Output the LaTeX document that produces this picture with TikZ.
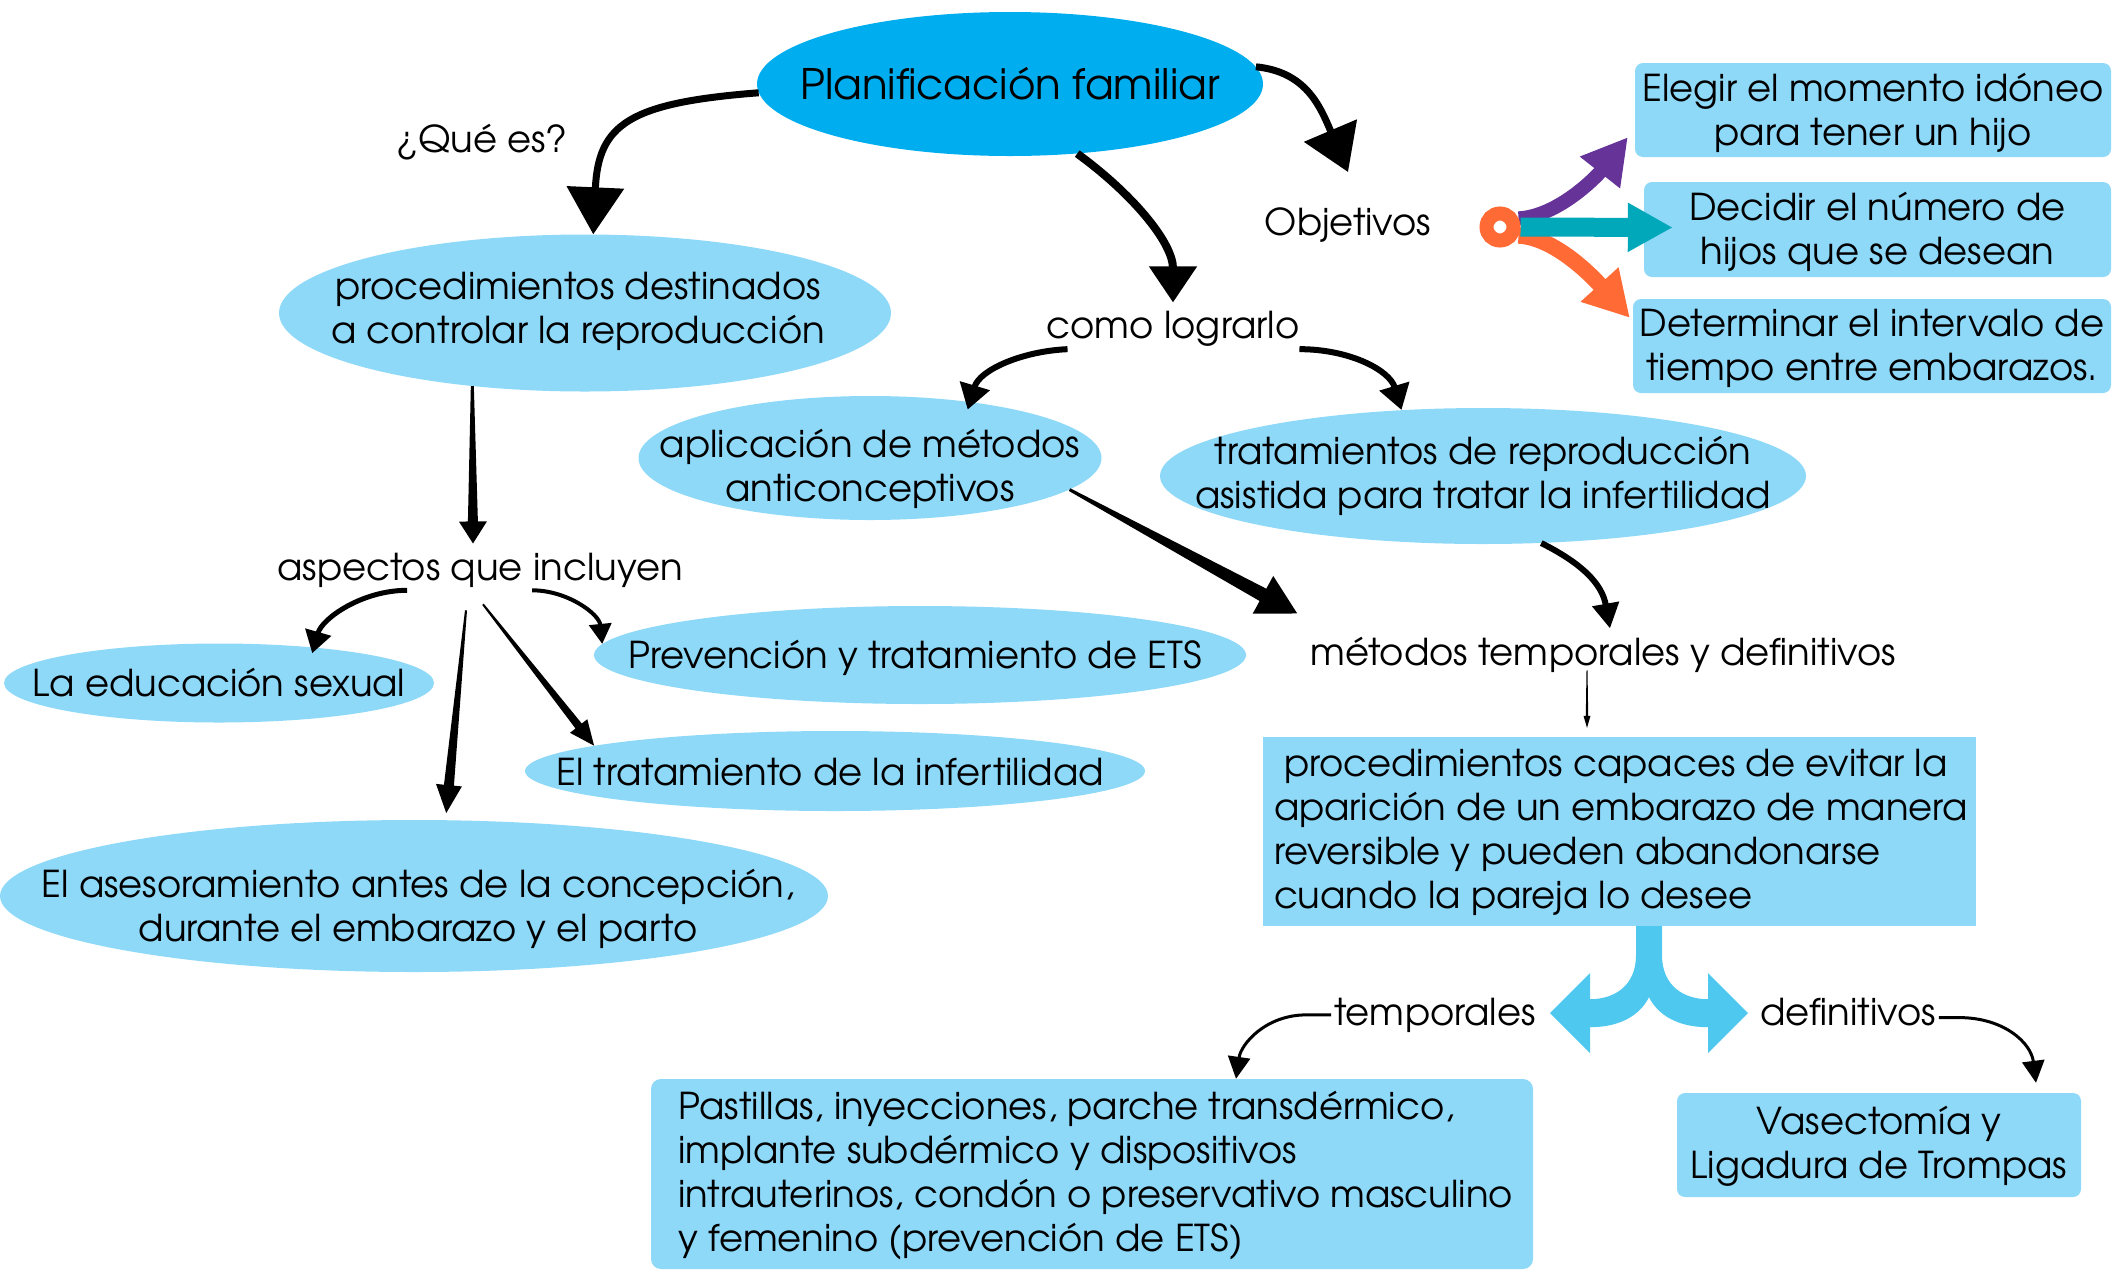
\documentclass[tikz,border=0pt]{standalone}
\usepackage{fontspec}
\setmainfont{TeX Gyre Adventor}
\usetikzlibrary{arrows.meta,calc,shapes.geometric}
\definecolor{dblue}{HTML}{00AEEF}
\definecolor{lblue}{HTML}{8ED8F8}
\definecolor{fblue}{HTML}{4FC8EF}
\definecolor{purp}{HTML}{663399}
\definecolor{tealc}{HTML}{00A8BA}
\definecolor{orng}{HTML}{FF6A35}
\pgfdeclarelayer{front}
\pgfsetlayers{main,front}
\newcommand\mytab[1]{\begin{tabular}{@{}c@{}}#1\end{tabular}}
\newcommand\ztab[1]{\makebox[0pt]{\mytab{#1}}}
\newcommand\lowr[2]{\raisebox{-#1}[\height][\depth]{#2}}
\newcommand\taparrow[6]{%
  \coordinate (tA) at (#1); \coordinate (tB) at (#2);
  \coordinate (tH) at ($(tB)!#5!(tA)$);
  \fill ($(tA)!#3!90:(tB)$) -- ($(tH)!#4!-90:(tA)$) -- ($(tH)!#6!-90:(tA)$) -- (tB)
    -- ($(tH)!#6!90:(tA)$) -- ($(tH)!#4!90:(tA)$) -- ($(tA)!#3!-90:(tB)$) -- cycle;}
\begin{document}
\begin{tikzpicture}[x=1pt,y=-1pt,font=\fontsize{37}{44}\selectfont,
  ell/.style={ellipse, fill=lblue, inner sep=0pt},
  ltxt/.style={inner sep=0pt},
  lbl/.style={inner sep=3pt, anchor=base},
  rbox/.style={fill=lblue, rounded corners=8pt, inner sep=0pt}]
\useasboundingbox (0,0) rectangle (2112,1270);

% ellipses
\node[ell, fill=dblue, minimum width=506pt, minimum height=144pt,
  label={[ltxt, yshift=-5pt, font=\fontsize{42}{50}\selectfont]center:\mytab{Planificación familiar}}] (plan) at (1010,84) {};
\node[ell, minimum width=612pt, minimum height=157pt,
  label={[ltxt, xshift=-7pt, yshift=0pt]center:\mytab{procedimientos destinados\\a controlar la reproducción}}] (proc) at (585,313) {};
\node[ell, minimum width=463pt, minimum height=124pt,
  label={[ltxt, yshift=-13pt]center:\mytab{aplicación de métodos\\anticonceptivos}}] (aplic) at (870,458) {};
\node[ell, minimum width=646pt, minimum height=136pt,
  label={[ltxt, yshift=-2pt]center:\mytab{tratamientos de reproducción\\asistida para tratar la infertilidad}}] (trat) at (1483,476) {};
\node[ell, minimum width=430pt, minimum height=79pt,
  label={[ltxt, yshift=-5pt]center:\mytab{La educación sexual}}] (edu) at (219,683) {};
\node[ell, minimum width=652pt, minimum height=98pt,
  label={[ltxt, xshift=-5pt, yshift=-5pt]center:\mytab{Prevención y tratamiento de ETS}}] (prev) at (920,655) {};
\node[ell, minimum width=620pt, minimum height=80pt,
  label={[ltxt, xshift=-5pt, yshift=-6pt]center:\mytab{El tratamiento de la infertilidad}}] (inf) at (835,771) {};
\node[ell, minimum width=828pt, minimum height=152pt,
  label={[ltxt, xshift=4pt, yshift=-15pt]center:\mytab{El asesoramiento antes de la concepción,\\durante el embarazo y el parto}}] (ases) at (414,896) {};

% boxes
\node[rbox, minimum width=476pt, minimum height=94pt] (elegir) at (1873,110) {\lowr{5pt}{\ztab{Elegir el momento idóneo\\para tener un hijo}}};
\node[rbox, minimum width=467pt, minimum height=95pt] (decidir) at (1877.5,229.5) {\lowr{4pt}{\ztab{Decidir el número de\\hijos que se desean}}};
\node[rbox, minimum width=478pt, minimum height=94pt] (determ) at (1872,346) {\lowr{4pt}{\ztab{Determinar el intervalo de\\tiempo entre embarazos.}}};
\node[rbox, sharp corners, minimum width=713pt, minimum height=189pt] (capaces) at (1619.5,831.5)
  {\lowr{2pt}{\makebox[691pt][l]{\begin{tabular}{@{}l@{}}\hspace*{10pt}procedimientos capaces de evitar la\\aparición de un embarazo de manera\\reversible y pueden abandonarse\\cuando la pareja lo desee\end{tabular}}}};
\node[rbox, rounded corners=10pt, minimum width=882pt, minimum height=190pt] (pastillas) at (1092,1174)
  {\lowr{3pt}{\makebox[828pt][l]{\begin{tabular}{@{}l@{}}Pastillas, inyecciones, parche transdérmico,\\implante subdérmico y dispositivos\\intrauterinos, condón o preservativo masculino\\y femenino (prevención de ETS)\end{tabular}}}};
\node[rbox, minimum width=404pt, minimum height=104pt] (vasect) at (1879,1145) {\lowr{3pt}{\ztab{Vasectomía y\\Ligadura de Trompas}}};

% plain labels
\node[lbl] (que) at (482,152) {¿Qué es?};
\node[lbl] (obj) at (1348,235) {Objetivos};
\node[lbl] (como) at (1173,338) {como lograrlo};
\node[lbl] (aspectos) at (480,580) {aspectos que incluyen};
\node[lbl] (metodos) at (1603,665) {métodos temporales y definitivos};
\node[lbl] (temporales) at (1435,1025) {temporales};
\node[lbl] (definitivos) at (1848,1025) {definitivos};

% ring
\begin{pgfonlayer}{front}
\node[circle, draw=orng, line width=14pt, minimum size=27pt, inner sep=0pt] (ring) at (1500,227) {};
\end{pgfonlayer}

% coloured objective arrows
\draw[orng, line width=16pt, -{Triangle[length=45pt,width=48pt]}] (ring.-25) .. controls +(40,2) and +(-30,-33) .. ([shift={(-3pt,-19pt)}]determ.north west);
\draw[purp, line width=14pt, -{Triangle[length=45pt,width=48pt]}] (ring.25) .. controls +(40,-2) and +(-30,38) .. ([shift={(-7pt,20pt)}]elegir.south west);
\draw[tealc, line width=19pt, -{Triangle[length=45pt,width=46pt]}] (ring.east) -- ([xshift=29pt,yshift=2pt]decidir.west);

% black curved arrows
\draw[line width=7pt, -{Triangle[length=47pt,width=56pt]}] (plan.182) .. controls +(-130,10) and +(5,-110) .. (proc.84);
\draw[line width=8pt, -{Triangle[length=36pt,width=46pt]}] (plan.-46) .. controls +(55,40) and +(0,-60) .. ([yshift=5pt]como.north);
\draw[line width=7pt, -{Triangle[length=45pt,width=56pt]}] (plan.4) .. controls +(50,5) and +(-28,-66) .. ([yshift=32pt]obj.north);
\draw[line width=6pt, -{Triangle[length=25pt,width=30pt]}] ([xshift=24pt]como.south west) .. controls +(-45,2) and +(12,-40) .. ([yshift=-8pt]aplic.30);
\draw[line width=6pt, -{Triangle[length=25pt,width=30pt]}] ([xshift=-3pt]como.south east) .. controls +(50,0) and +(-12,-40) .. (trat.141);
\draw[line width=6pt, -{Triangle[length=25pt,width=26pt]}] (trat.-49) .. controls +(40,20) and +(-8,-45) .. ([shift={(7pt,5pt)}]metodos.north);
\draw[line width=5pt, -{Triangle[length=22pt,width=26pt]}] ([xshift=133pt]aspectos.south west) .. controls +(-45,0) and +(10,-35) .. ([yshift=-6pt]edu.21);
\draw[line width=4pt, -{Triangle[length=20pt,width=22pt]}] ([xshift=258pt]aspectos.south west) .. controls +(35,0) and +(-3,-30) .. (prev.178);
\draw[line width=3pt, -{Triangle[length=22pt,width=22pt]}] (temporales.west) -- ++(-25,0) .. controls +(-40,0) and +(5,-35) .. ([xshift=144pt]pastillas.north);
\draw[line width=3pt, -{Triangle[length=22pt,width=22pt]}] ([yshift=-6pt]definitivos.east) -- ++(20,0) .. controls +(45,0) and +(-5,-40) .. ([shift={(157pt,10pt)}]vasect.north);

% straight tapered arrows
\taparrow{aplic.-9}{[shift={(-10pt,20pt)}]metodos.north west}{1.5pt}{7pt}{39pt}{21.5pt}
\taparrow{[xshift=-16pt,yshift=5pt]metodos.south}{[shift={(-32.5pt,9pt)}]capaces.north}{0.5pt}{1.2pt}{12pt}{3.5pt}
\taparrow{proc.213}{[xshift=-7pt,yshift=6pt]aspectos.north}{1.5pt}{5pt}{22pt}{14pt}
\taparrow{[xshift=3pt,yshift=-14pt]aspectos.south}{inf.174}{1pt}{4pt}{25pt}{11pt}
\taparrow{[xshift=-14pt,yshift=-20pt]aspectos.south}{[yshift=7pt]ases.67}{1pt}{5pt}{28pt}{13pt}

% fork arrow
\coordinate (fk) at ([xshift=29.5pt]capaces.south);
\begin{scope}[shift={(fk)}]
\fill[fblue] (-13,0) -- (-13,29) .. controls (-13,59) and (-34,73) .. (-59,73) -- (-59,47) -- (-99,87) -- (-59,127) -- (-59,101)
  .. controls (-29,101) and (-9,89) .. (0,71) .. controls (9,89) and (29,101) .. (59,101) -- (59,127) -- (99,87) -- (59,47) -- (59,73)
  .. controls (34,73) and (13,59) .. (13,29) -- (13,0) -- cycle;
\end{scope}
\end{tikzpicture}
\end{document}
